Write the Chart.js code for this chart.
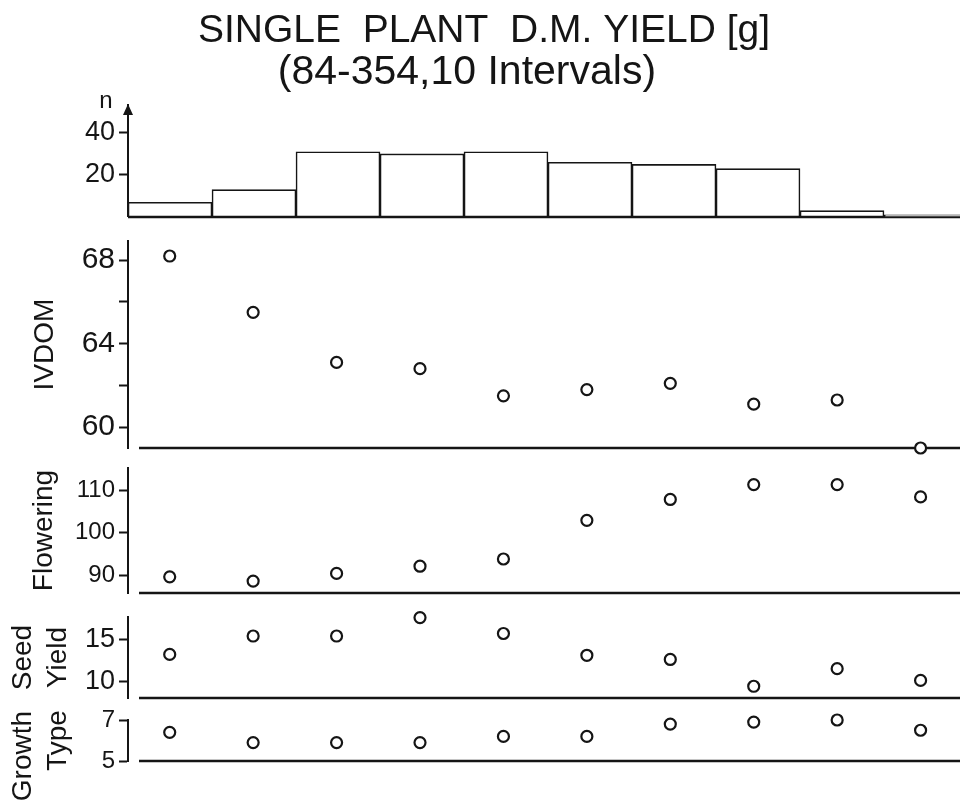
<!DOCTYPE html>
<html>
<head>
<meta charset="utf-8">
<title>Single plant D.M. yield</title>
<script src="https://cdn.jsdelivr.net/npm/chart.js@4.4.1/dist/chart.umd.min.js"></script>
<style>
  html, body { margin: 0; padding: 0; background: #fff; }
  #wrap { position: relative; width: 960px; height: 802px; overflow: hidden; }
  #wrap canvas { position: absolute; left: 0; top: 0; }
</style>
</head>
<body>
<div id="wrap">
  <canvas id="histChart" width="970" height="802"></canvas>
  <canvas id="ivdomChart" width="970" height="802"></canvas>
  <canvas id="flowerChart" width="970" height="802"></canvas>
  <canvas id="seedChart" width="970" height="802"></canvas>
  <canvas id="growthChart" width="970" height="802"></canvas>
</div>
<script>
// yield classes (g), 10 intervals from 84 to 354
const binLabels = ['84-111', '111-138', '138-165', '165-192', '192-219',
                   '219-246', '246-273', '273-300', '300-327', '327-354'];

// number of plants per class
const plantCounts = [7, 13, 31, 30, 31, 26, 25, 23, 3, 1];

// class means
const ivdom      = [68.2, 65.5, 63.1, 62.8, 61.5, 61.8, 62.1, 61.1, 61.3, 59.0];
const flowering  = [89.6, 88.6, 90.4, 92.1, 93.8, 102.9, 107.8, 111.3, 111.3, 108.4];
const seedYield  = [13.2, 15.4, 15.4, 17.6, 15.7, 13.1, 12.6, 9.4, 11.5, 10.1];
const growthType = [6.4, 5.9, 5.9, 5.9, 6.2, 6.2, 6.8, 6.9, 7.0, 6.5];

// tick positions for each panel
const countTicks     = [20, 40];
const ivdomTicks     = [60, 62, 64, 66, 68];
const ivdomLabelled  = [60, 64, 68];
const floweringTicks = [90, 100, 110];
const seedTicks      = [10, 15];
const growthTicks    = [5, 7];

const INK = '#151515';
const FONT = "'Liberation Sans', Arial, sans-serif";
const AXIS_W = 128;

// horizontal base line under each panel
const baseline = {
  id: 'baseline',
  beforeDatasetsDraw(chart, args, opts) {
    const {ctx, chartArea: {left, right, bottom}} = chart;
    ctx.save();
    ctx.strokeStyle = INK;
    ctx.lineWidth = 2.4;
    ctx.beginPath();
    ctx.moveTo(left + (opts.inset || 0), bottom);
    ctx.lineTo(right, bottom);
    ctx.stroke();
    ctx.restore();
  }
};

// arrow head and "n" on top of the count axis
const arrowHead = {
  id: 'arrowHead',
  afterDraw(chart) {
    const {ctx, chartArea: {left, top}} = chart;
    ctx.save();
    ctx.fillStyle = INK;
    ctx.beginPath();
    ctx.moveTo(left, top - 1);
    ctx.lineTo(left - 5, top + 10);
    ctx.lineTo(left + 5, top + 10);
    ctx.closePath();
    ctx.fill();
    ctx.font = '24px ' + FONT;
    ctx.textAlign = 'center';
    ctx.textBaseline = 'alphabetic';
    ctx.fillText('n', left - 22, top + 3);
    ctx.restore();
  }
};

function yAxis(min, max, tickVals, fontSize, title, labelled) {
  return {
    min: min,
    max: max,
    afterFit(axis) { axis.width = AXIS_W; },
    afterBuildTicks(axis) { axis.ticks = tickVals.map(v => ({value: v})); },
    border: {display: true, color: INK, width: 2},
    grid: {drawOnChartArea: false, drawTicks: true, tickLength: 9, tickWidth: 2, tickColor: INK},
    ticks: {
      color: INK,
      padding: 4,
      font: {family: FONT, size: fontSize},
      callback: (v) => (!labelled || labelled.includes(v)) ? String(v) : ''
    },
    title: title ? {
      display: true,
      text: title.text,
      color: INK,
      font: {family: FONT, size: 28, lineHeight: 1.25},
      padding: {top: title.pad, bottom: 0}
    } : {display: false}
  };
}

const xAxis = {type: 'category', offset: true, display: false};

function panel(id, values, top, bottom, y) {
  return new Chart(document.getElementById(id), {
    type: 'line',
    data: {
      labels: binLabels,
      datasets: [{
        data: values,
        showLine: false,
        pointStyle: 'circle',
        pointRadius: 5.5,
        pointBorderWidth: 2.2,
        pointBorderColor: INK,
        pointBackgroundColor: '#fff',
        clip: false
      }]
    },
    options: {
      responsive: false,
      animation: false,
      events: [],
      layout: {padding: {top: top, bottom: 802 - bottom, left: 0, right: 2}},
      plugins: {
        legend: {display: false},
        tooltip: {enabled: false},
        baseline: {inset: 11}
      },
      scales: {x: xAxis, y: y}
    },
    plugins: [baseline]
  });
}

// frequency histogram
new Chart(document.getElementById('histChart'), {
  type: 'bar',
  data: {
    labels: binLabels,
    datasets: [{
      data: plantCounts,
      backgroundColor: '#fff',
      borderColor: INK,
      borderWidth: 1.6,
      borderSkipped: false,
      barPercentage: 1,
      categoryPercentage: 1
    }]
  },
  options: {
    responsive: false,
    animation: false,
    events: [],
    layout: {padding: {top: 0, bottom: 802 - 217, left: 0, right: 2}},
    plugins: {
      legend: {display: false},
      tooltip: {enabled: false},
      baseline: {inset: 0},
      title: {
        display: true,
        text: 'SINGLE  PLANT  D.M. YIELD [g]',
        color: INK,
        font: {family: FONT, size: 39, weight: 'normal', lineHeight: 1.08},
        padding: {top: 10, bottom: 0}
      },
      subtitle: {
        display: true,
        // trailing spaces set the line a little left of the first one
        text: '(84-354,10 Intervals)   ',
        color: INK,
        font: {family: FONT, size: 41, weight: 'normal', lineHeight: 1.02},
        padding: {top: 0, bottom: 11}
      }
    },
    scales: {
      x: xAxis,
      y: yAxis(0, 53.3, countTicks, 27, null)
    }
  },
  plugins: [baseline, arrowHead]
});

panel('ivdomChart', ivdom, 241, 448,
  yAxis(59, 68.92, ivdomTicks, 30, {text: 'IVDOM', pad: 27.5}, ivdomLabelled));

panel('flowerChart', flowering, 468, 593,
  yAxis(85.8, 115.2, floweringTicks, 24, {text: 'Flowering', pad: 26.5}));

panel('seedChart', seedYield, 617, 698,
  yAxis(8, 17.67, seedTicks, 27, {text: ['Seed', 'Yield'], pad: 5.5}));

// "Growth" sits lower than "Type", running off the bottom edge
panel('growthChart', growthType, 720, 761,
  yAxis(5, 7, growthTicks, 24, {text: ['Growth    ', 'Type'], pad: 5.5}));
</script>
</body>
</html>
